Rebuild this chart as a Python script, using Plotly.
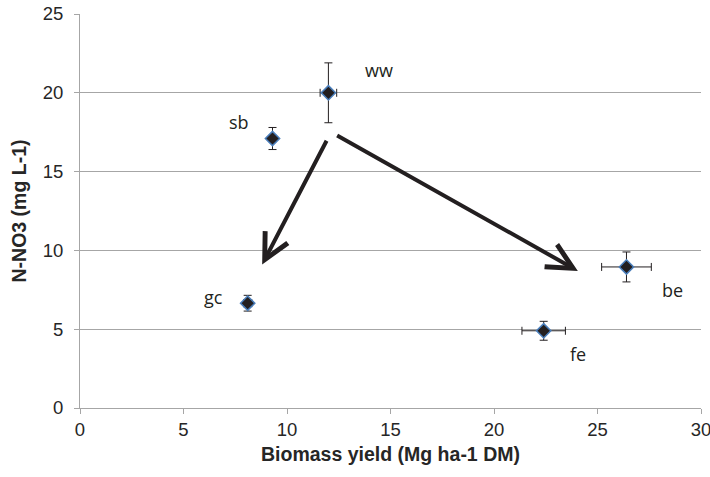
import plotly.graph_objects as go

crops = ["ww", "sb", "gc", "fe", "be"]
yield_x = [12.0, 9.3, 8.1, 22.4, 26.4]
nitrate_y = [20.0, 17.1, 6.65, 4.9, 8.95]
err_x = [0.4, 0.15, 0.2, 1.05, 1.2]
err_y = [1.9, 0.7, 0.5, 0.6, 0.95]

# label offsets (pixels) relative to each point
label_dx = [51, -34, -34, 34, 46]
label_dy = [23, 17, 6, -23, -23]

# arrows: start (x, y) -> tip (x, y)
arrow_start_x = [11.95, 12.35]
arrow_start_y = [17.05, 17.35]
arrow_tip_x = [8.8, 24.05]
arrow_tip_y = [9.1, 8.7]

x_ticks = [0, 5, 10, 15, 20, 25, 30]
y_ticks = [0, 5, 10, 15, 20, 25]

ink = "#231f20"
grid = "#a6a6a6"
txt = "#262626"

fig = go.Figure()
fig.add_trace(go.Scatter(
    x=yield_x, y=nitrate_y, mode="markers",
    marker=dict(symbol="diamond", size=11, color=ink,
                line=dict(color="#4a7ebb", width=1.5)),
    error_x=dict(type="data", array=err_x, color=ink, thickness=1, width=4),
    error_y=dict(type="data", array=err_y, color=ink, thickness=1, width=4),
    showlegend=False, hoverinfo="skip",
))

anns = []
for c, x, y, dx, dy in zip(crops, yield_x, nitrate_y, label_dx, label_dy):
    anns.append(dict(x=x, y=y, xref="x", yref="y", text=c, showarrow=False,
                     xshift=dx, yshift=dy,
                     font=dict(family="Open Sans", size=18, color=ink)))
for sx, sy, tx, ty in zip(arrow_start_x, arrow_start_y, arrow_tip_x, arrow_tip_y):
    anns.append(dict(x=tx, y=ty, ax=sx, ay=sy, xref="x", yref="y",
                     axref="x", ayref="y", text="", showarrow=True,
                     arrowhead=5, arrowsize=1.25, arrowwidth=4, arrowcolor=ink,
                     standoff=0, startstandoff=0))
anns.append(dict(x=0.5, y=-0.118, xref="paper", yref="paper", yanchor="middle",
                 text="<b>Biomass yield (Mg ha-1 DM)</b>", showarrow=False,
                 font=dict(family="Arial", size=19.5, color=txt)))
anns.append(dict(x=-0.099, y=0.5, xref="paper", yref="paper", xanchor="center",
                 yanchor="middle", textangle=-90,
                 text="<b>N-NO3 (mg L-1)</b>", showarrow=False,
                 font=dict(family="Arial", size=19.5, color=txt)))

fig.update_layout(
    width=710, height=477,
    margin=dict(l=79.5, r=8.5, t=14, b=69),
    paper_bgcolor="white", plot_bgcolor="white",
    font=dict(family="Arial", size=18.5, color=txt),
    annotations=anns,
    xaxis=dict(range=[0, 30], tickvals=x_ticks, showgrid=False, zeroline=False,
               showline=True, linecolor=grid, linewidth=1, automargin=False,
               ticks="outside", ticklen=5, tickcolor=grid,
               ticklabeloverflow="allow"),
    yaxis=dict(range=[0, 25], tickvals=y_ticks, showgrid=True, gridcolor=grid,
               gridwidth=1, zeroline=False, showline=True, linecolor=grid,
               linewidth=1, automargin=False, ticks="outside", ticklen=5,
               tickcolor=grid, ticklabelstandoff=7, ticklabeloverflow="allow"),
)

fig.write_html("out.html")
